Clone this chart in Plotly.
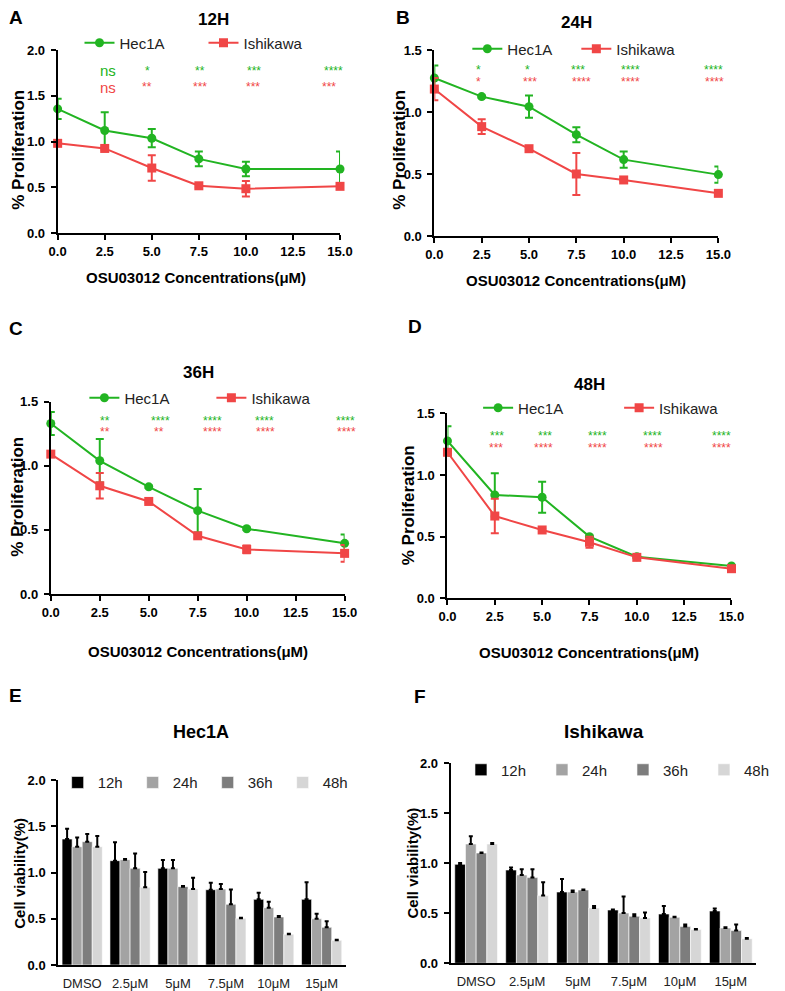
import plotly.graph_objects as go

# the page body keeps its default 8px margin, so the figure is drawn 8px in
OFF = 8
W, H = 785 - OFF, 991 - OFF
FONT = 'Liberation Sans, Arial, sans-serif'
GREEN = '#22b422'
RED = '#f04646'

#%% data
conc = [0, 2.5, 5, 7.5, 10, 15]
star_conc = [2.5, 5, 7.5, 10, 15]

hec_12h = [1.356, 1.12, 1.036, 0.81, 0.70, 0.70]
hec_12h_sd = [0.11, 0.20, 0.10, 0.08, 0.08, 0.19]
ish_12h = [0.98, 0.924, 0.71, 0.516, 0.484, 0.51]
ish_12h_sd = [0.02, 0.02, 0.14, 0.02, 0.085, 0.02]

hec_24h = [1.274, 1.124, 1.043, 0.817, 0.616, 0.495]
hec_24h_sd = [0.10, 0.01, 0.09, 0.06, 0.065, 0.065]
ish_24h = [1.185, 0.882, 0.704, 0.50, 0.452, 0.344]
ish_24h_sd = [0.09, 0.06, 0.01, 0.17, 0.01, 0.01]

hec_36h = [1.33, 1.039, 0.836, 0.65, 0.509, 0.395]
hec_36h_sd = [0.09, 0.17, 0.01, 0.17, 0.01, 0.07]
ish_36h = [1.091, 0.844, 0.722, 0.454, 0.348, 0.317]
ish_36h_sd = [0.01, 0.10, 0.01, 0.02, 0.03, 0.065]

hec_48h = [1.276, 0.838, 0.819, 0.50, 0.337, 0.262]
hec_48h_sd = [0.12, 0.175, 0.125, 0.01, 0.01, 0.01]
ish_48h = [1.184, 0.667, 0.554, 0.454, 0.332, 0.24]
ish_48h_sd = [0.01, 0.14, 0.01, 0.045, 0.01, 0.01]

stars_12h_hec = ['ns', '*', '**', '***', '****']
stars_12h_ish = ['ns', '**', '***', '***', '***']
stars_24h_hec = ['*', '*', '***', '****', '****']
stars_24h_ish = ['*', '***', '****', '****', '****']
stars_36h_hec = ['**', '****', '****', '****', '****']
stars_36h_ish = ['**', '**', '****', '****', '****']
stars_48h_hec = ['***', '***', '****', '****', '****']
stars_48h_ish = ['***', '****', '****', '****', '****']

dose_labels = ['DMSO', '2.5μM', '5μM', '7.5μM', '10μM', '15μM']
times = ['12h', '24h', '36h', '48h']
bar_colors = ['#000000', '#a3a3a3', '#7d7d7d', '#d6d6d6']

hec_bars = [
    [1.362, 1.128, 1.045, 0.814, 0.71, 0.71],
    [1.279, 1.139, 1.045, 0.822, 0.62, 0.50],
    [1.333, 1.045, 0.847, 0.656, 0.519, 0.407],
    [1.279, 0.84, 0.822, 0.505, 0.332, 0.267],
]
hec_bars_sd = [
    [0.11, 0.20, 0.09, 0.076, 0.072, 0.184],
    [0.10, 0.006, 0.09, 0.054, 0.065, 0.055],
    [0.083, 0.16, 0.006, 0.16, 0.01, 0.065],
    [0.116, 0.165, 0.122, 0.006, 0.006, 0.006],
]
ish_bars = [
    [0.99, 0.933, 0.713, 0.533, 0.493, 0.523],
    [1.193, 0.883, 0.713, 0.503, 0.46, 0.353],
    [1.103, 0.857, 0.733, 0.47, 0.367, 0.327],
    [1.193, 0.677, 0.553, 0.453, 0.337, 0.246],
]
ish_bars_sd = [
    [0.012, 0.024, 0.13, 0.006, 0.08, 0.024],
    [0.077, 0.057, 0.014, 0.164, 0.006, 0.008],
    [0.006, 0.083, 0.006, 0.02, 0.02, 0.06],
    [0.01, 0.133, 0.02, 0.054, 0.006, 0.006],
]


def px(p):
    return (p - OFF) / W


def py(p):
    return 1 - (p - OFF) / H


fig = go.Figure()
annotations = []

axis_style = dict(
    showline=True, linecolor='black', linewidth=2,
    showgrid=False, zeroline=False, automargin=False,
    ticks='outside', ticklen=5, tickwidth=2, tickcolor='black',
    tickfont=dict(family=FONT, size=13, color='black', weight='bold'),
)

#%% line panels A-D
# (suffix, legend, x0, x1, ytop, ybot, ymax, hec, hec_sd, ish, ish_sd,
#  stars hec, stars ish, star rows y, star xshifts, legend x, legend y, entrywidth)
line_panels = [
    ('', 'legend', 58.7, 347, 50, 233, 2.0, hec_12h, hec_12h_sd, ish_12h, ish_12h_sd,
     stars_12h_hec, stars_12h_ish, (70.5, 87), ([3, -4, 1, 8, -7], [3, -5, 1, 7, -11]), 81, 43, 79),
    ('2', 'legend2', 443.3, 733.3, 50, 236, 1.5, hec_24h, hec_24h_sd, ish_24h, ish_24h_sd,
     stars_24h_hec, stars_24h_ish, (70, 82), ([-3, -2, 2, 7, -5], [-3, 1, 5, 7, -4]), 477, 49, 64),
    ('3', 'legend3', 51.7, 351.7, 401.7, 594, 1.5, hec_36h, hec_36h_sd, ish_36h, ish_36h_sd,
     stars_36h_hec, stars_36h_ish, (421, 432), ([5, 12, 15, 18, 1], [5, 10, 15, 19, 2]), 86, 398, 82),
    ('4', 'legend4', 456.7, 746.7, 413.3, 598.3, 1.5, hec_48h, hec_48h_sd, ish_48h, ish_48h_sd,
     stars_48h_hec, stars_48h_ish, (435.5, 448), ([2, 3, 8, 16, -10], [1, 1, 8, 17, -10]), 488, 408, 96),
]

legends = {}
for (sfx, leg, x0, x1, yt, yb, ymax, hec, hec_sd, ish, ish_sd,
     s_hec, s_ish, star_y, shifts, lx, ly, ew) in line_panels:
    xa, ya = 'x' + sfx, 'y' + sfx
    fig.add_trace(go.Scatter(
        x=conc, y=hec, name='Hec1A', mode='lines+markers', xaxis=xa, yaxis=ya,
        legend=leg, cliponaxis=False,
        line=dict(color=GREEN, width=2), marker=dict(symbol='circle', size=9, color=GREEN),
        error_y=dict(type='data', array=hec_sd, color=GREEN, thickness=2, width=4)))
    fig.add_trace(go.Scatter(
        x=conc, y=ish, name='Ishikawa', mode='lines+markers', xaxis=xa, yaxis=ya,
        legend=leg, cliponaxis=False,
        line=dict(color=RED, width=2), marker=dict(symbol='square', size=9, color=RED),
        error_y=dict(type='data', array=ish_sd, color=RED, thickness=2, width=4)))

    fig.update_layout({
        'xaxis' + sfx: dict(axis_style, domain=[px(x0), px(x1)], range=[0, 15],
                            tickvals=[0, 2.5, 5, 7.5, 10, 12.5, 15], tickformat='.1f',
                            anchor=ya),
        'yaxis' + sfx: dict(axis_style, domain=[py(yb), py(yt)], range=[0, ymax],
                            dtick=0.5, tickformat='.1f', anchor=xa, ticklabelstandoff=3),
    })
    legends[leg] = dict(orientation='h', x=px(lx), y=py(ly), xanchor='left', yanchor='middle',
                        entrywidth=ew, entrywidthmode='pixels', itemwidth=30,
                        bgcolor='rgba(0,0,0,0)', font=dict(family=FONT, size=15, color='#222'))

    for labels, row_y, sh, col in ((s_hec, star_y[0], shifts[0], GREEN),
                                   (s_ish, star_y[1], shifts[1], RED)):
        for c, lab, s in zip(star_conc, labels, sh):
            annotations.append(dict(
                x=c, y=py(row_y), xref=xa, yref='paper', text=lab, showarrow=False,
                xshift=s, xanchor='center', yanchor='middle',
                font=dict(family=FONT, size=15 if lab == 'ns' else 12, color=col)))

#%% bar panels E-F
bar_panels = [
    ('5', 'legend5', 59.3, 352.7, 780, 965, hec_bars, hec_bars_sd, 58.7, 782.7, 30),
    ('6', 'legend6', 460, 772, 763.3, 963.3, ish_bars, ish_bars_sd, 470.5, 770, 36),
]
for sfx, leg, x0, x1, yt, yb, vals, sds, lx, ly, ew in bar_panels:
    xa, ya = 'x' + sfx, 'y' + sfx
    for t, col, v, sd in zip(times, bar_colors, vals, sds):
        fig.add_trace(go.Bar(
            x=dose_labels, y=v, name=t, xaxis=xa, yaxis=ya, legend=leg,
            marker=dict(color=col, line=dict(color='white', width=0.6)),
            error_y=dict(type='data', symmetric=False, array=sd, arrayminus=[0] * len(sd),
                         color='black', thickness=2, width=2)))
    fig.update_layout({
        'xaxis' + sfx: dict(axis_style, domain=[px(x0), px(x1)], range=[-0.5, 5.5],
                            ticks='', ticklabelstandoff=5, anchor=ya,
                            tickfont=dict(family=FONT, size=13, color='#222')),
        'yaxis' + sfx: dict(axis_style, domain=[py(yb), py(yt)], range=[0, 2.0],
                            dtick=0.5, tickformat='.1f', anchor=xa, ticklabelstandoff=3),
    })
    legends[leg] = dict(orientation='h', x=px(lx), y=py(ly), xanchor='left', yanchor='middle',
                        entrywidth=ew, entrywidthmode='pixels', itemwidth=30,
                        bgcolor='rgba(0,0,0,0)', font=dict(family=FONT, size=15, color='#222'))

#%% titles, letters, axis titles (kept clear of the page's 8px edge)
texts = [
    # text, x px, y px, size, angle
    ('A', 16, 18, 19, 0), ('B', 411.7, 18, 19, 0), ('C', 16, 328.3, 19, 0),
    ('D', 423.5, 326.7, 19, 0), ('E', 16, 695, 19, 0), ('F', 429, 696, 19, 0),
    ('12H', 218, 19, 17, 0), ('24H', 588, 22, 17, 0), ('36H', 202, 372, 17, 0),
    ('48H', 601.7, 384, 17, 0), ('Hec1A', 205, 731.7, 18, 0), ('Ishikawa', 617, 731.7, 19, 0),
    ('OSU03012 Concentrations(μM)', 200, 278, 15, 0),
    ('OSU03012 Concentrations(μM)', 588, 281, 15, 0),
    ('OSU03012 Concentrations(μM)', 201.7, 651.7, 15, 0),
    ('OSU03012 Concentrations(μM)', 601.7, 652.7, 15, 0),
    ('% Proliferation', 19, 150, 17, -90), ('% Proliferation', 408, 150, 17, -90),
    ('% Proliferation', 17, 497, 17, -90), ('% Proliferation', 416.7, 505, 17, -90),
    ('Cell viability(%)', 19, 873, 15, -90), ('Cell viability(%)', 420, 863, 15, -90),
]
for txt, x, y, size, ang in texts:
    annotations.append(dict(
        x=px(x), y=py(y), xref='paper', yref='paper', text=txt, showarrow=False,
        xanchor='center', yanchor='middle', textangle=ang,
        font=dict(family=FONT, size=size, color='black', weight='bold')))

fig.update_layout(
    width=W, height=H,
    margin=dict(l=0, r=0, t=0, b=0),
    paper_bgcolor='white', plot_bgcolor='white',
    barmode='group', bargap=0.16, bargroupgap=0,
    annotations=annotations,
    font=dict(family=FONT, color='black'),
    **legends,
)

fig.write_html("out.html")
